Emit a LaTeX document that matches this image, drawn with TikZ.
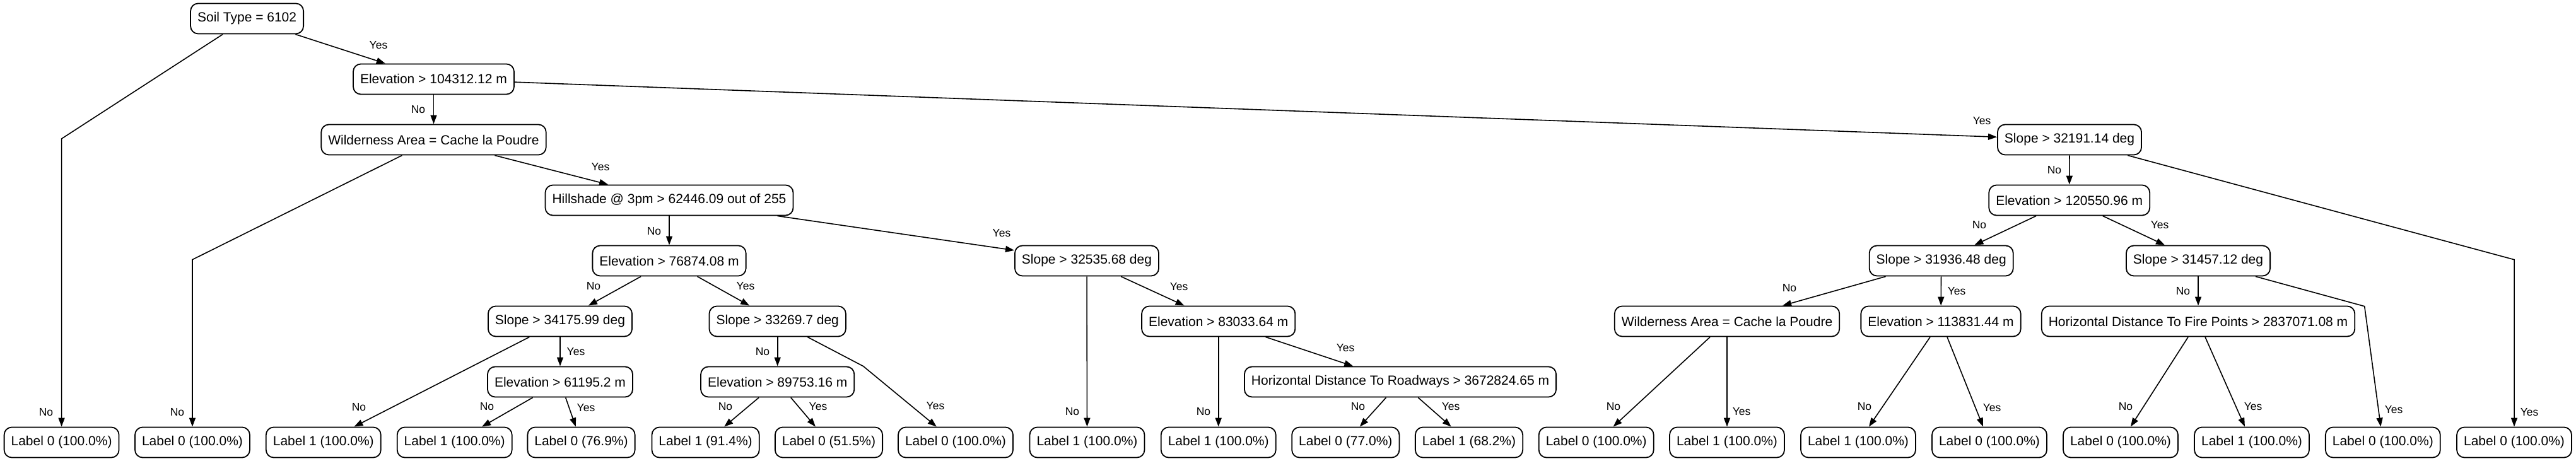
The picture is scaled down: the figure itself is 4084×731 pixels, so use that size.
\documentclass[tikz,border=0pt]{standalone}
\usepackage{fontspec}
\setmainfont{Liberation Sans}
\usetikzlibrary{arrows.meta}
\begin{document}
\begin{tikzpicture}[x=0.5pt,y=-0.5pt,
  box/.style={draw, rounded corners=6pt, line width=0.9pt, minimum height=24pt,
    inner xsep=5.5pt, inner ysep=0pt, font=\fontsize{10.5}{12}\selectfont},
  lbl/.style={font=\fontsize{8.75}{10}\selectfont, inner sep=0pt},
  conn/.style={line width=0.8pt, -{Triangle[length=7pt,width=5pt]}},
]
\useasboundingbox[fill=white] (0,0) rectangle (4084,731);
% internal nodes
\node[box] (soil) at (391.6,29.5) {Soil Type = 6102};
\node[box] (e104) at (687.5,125.5) {Elevation > 104312.12 m};
\node[box] (wild1) at (687.5,221.5) {Wilderness Area = Cache la Poudre};
\node[box] (hill) at (1061,317.5) {Hillshade @ 3pm > 62446.09 out of 255};
\node[box] (e76) at (1061,413.5) {Elevation > 76874.08 m};
\node[box] (s34) at (888,509.5) {Slope > 34175.99 deg};
\node[box] (e61) at (888,605.5) {Elevation > 61195.2 m};
\node[box] (s33) at (1232.7,509.5) {Slope > 33269.7 deg};
\node[box] (e89) at (1232.7,605.5) {Elevation > 89753.16 m};
\node[box] (s325) at (1723,413.5) {Slope > 32535.68 deg};
\node[box] (e83) at (1931.7,509.5) {Elevation > 83033.64 m};
\node[box] (hdr) at (2220,605.5) {Horizontal Distance To Roadways > 3672824.65 m};
\node[box] (s321) at (3281,221.5) {Slope > 32191.14 deg};
\node[box] (e120) at (3280.7,317.5) {Elevation > 120550.96 m};
\node[box] (s319) at (3077.7,413.5) {Slope > 31936.48 deg};
\node[box] (s314) at (3485,413.5) {Slope > 31457.12 deg};
\node[box] (wild2) at (2738,509.5) {Wilderness Area = Cache la Poudre};
\node[box] (e113) at (3077,509.5) {Elevation > 113831.44 m};
\node[box] (hdfp) at (3485,509.5) {Horizontal Distance To Fire Points > 2837071.08 m};
% leaves
\node[box] (L1) at (97.6,701.5) {Label 0 (100.0\%)};
\node[box] (L2) at (305,701.5) {Label 0 (100.0\%)};
\node[box] (L3) at (512.8,701.5) {Label 1 (100.0\%)};
\node[box] (L4) at (720.7,701.5) {Label 1 (100.0\%)};
\node[box] (L5) at (921.5,701.5) {Label 0 (76.9\%)};
\node[box] (L6) at (1118.6,701.5) {Label 1 (91.4\%)};
\node[box] (L7) at (1314,701.5) {Label 0 (51.5\%)};
\node[box] (L8) at (1515,701.5) {Label 0 (100.0\%)};
\node[box] (L9) at (1723.5,701.5) {Label 1 (100.0\%)};
\node[box] (L10) at (1931.7,701.5) {Label 1 (100.0\%)};
\node[box] (L11) at (2133.3,701.5) {Label 0 (77.0\%)};
\node[box] (L12) at (2329,701.5) {Label 1 (68.2\%)};
\node[box] (L13) at (2530.7,701.5) {Label 0 (100.0\%)};
\node[box] (L14) at (2738,701.5) {Label 1 (100.0\%)};
\node[box] (L15) at (2946,701.5) {Label 1 (100.0\%)};
\node[box] (L16) at (3154,701.5) {Label 0 (100.0\%)};
\node[box] (L17) at (3362,701.5) {Label 0 (100.0\%)};
\node[box] (L18) at (3570,701.5) {Label 1 (100.0\%)};
\node[box] (L19) at (3777.8,701.5) {Label 0 (100.0\%)};
\node[box] (L20) at (3986,701.5) {Label 0 (100.0\%)};
% bend points
\coordinate (b1) at (97.6,220);
\coordinate (b5) at (305,411.7);
\coordinate (b16) at (1368.6,580.7);
\coordinate (b26) at (3986,411.7);
\coordinate (b36) at (3748.7,485.7);
% connectors
\draw[conn] (soil) -- (b1) -- (L1);
\draw[conn] (soil) -- (e104);
\draw[conn] (e104) -- (wild1);
\draw[conn] (e104) -- (s321);
\draw[conn] (wild1) -- (b5) -- (L2);
\draw[conn] (wild1) -- (hill);
\draw[conn] (hill) -- (e76);
\draw[conn] (hill) -- (s325);
\draw[conn] (e76) -- (s34);
\draw[conn] (e76) -- (s33);
\draw[conn] (s34) -- (L3);
\draw[conn] (s34) -- (e61);
\draw[conn] (e61) -- (L4);
\draw[conn] (e61) -- (L5);
\draw[conn] (s33) -- (e89);
\draw[conn] (s33) -- (b16) -- (L8);
\draw[conn] (e89) -- (L6);
\draw[conn] (e89) -- (L7);
\draw[conn] (s325) -- (L9);
\draw[conn] (s325) -- (e83);
\draw[conn] (e83) -- (L10);
\draw[conn] (e83) -- (hdr);
\draw[conn] (hdr) -- (L11);
\draw[conn] (hdr) -- (L12);
\draw[conn] (s321) -- (e120);
\draw[conn] (s321) -- (b26) -- (L20);
\draw[conn] (e120) -- (s319);
\draw[conn] (e120) -- (s314);
\draw[conn] (s319) -- (wild2);
\draw[conn] (s319) -- (e113);
\draw[conn] (wild2) -- (L13);
\draw[conn] (wild2) -- (L14);
\draw[conn] (e113) -- (L15);
\draw[conn] (e113) -- (L16);
\draw[conn] (s314) -- (hdfp);
\draw[conn] (s314) -- (b36) -- (L19);
\draw[conn] (hdfp) -- (L17);
\draw[conn] (hdfp) -- (L18);
% edge labels
\node[lbl] (t1) at (73,654) {No};
\node[lbl] (t2) at (600,72) {Yes};
\node[lbl] (t3) at (663,174) {No};
\node[lbl] (t4) at (3142,192) {Yes};
\node[lbl] (t5) at (281,654) {No};
\node[lbl] (t6) at (952,265) {Yes};
\node[lbl] (t7) at (1037,367) {No};
\node[lbl] (t8) at (1588,370) {Yes};
\node[lbl] (t9) at (941,454) {No};
\node[lbl] (t10) at (1182,454) {Yes};
\node[lbl] (t11) at (569,646) {No};
\node[lbl] (t12) at (913,558) {Yes};
\node[lbl] (t13) at (772,645) {No};
\node[lbl] (t14) at (929,647) {Yes};
\node[lbl] (t15) at (1209,558) {No};
\node[lbl] (t16) at (1483,644) {Yes};
\node[lbl] (t17) at (1150,645) {No};
\node[lbl] (t18) at (1297,645) {Yes};
\node[lbl] (t19) at (1700,653) {No};
\node[lbl] (t20) at (1869,455) {Yes};
\node[lbl] (t21) at (1908,653) {No};
\node[lbl] (t22) at (2133,552) {Yes};
\node[lbl] (t23) at (2153,645) {No};
\node[lbl] (t24) at (2300,645) {Yes};
\node[lbl] (t25) at (3257,270) {No};
\node[lbl] (t26) at (4010,654) {Yes};
\node[lbl] (t27) at (3138,357) {No};
\node[lbl] (t28) at (3424,357) {Yes};
\node[lbl] (t29) at (2837,457) {No};
\node[lbl] (t30) at (3102,462) {Yes};
\node[lbl] (t31) at (2558,645) {No};
\node[lbl] (t32) at (2761,653) {Yes};
\node[lbl] (t33) at (2956,645) {No};
\node[lbl] (t34) at (3158,647) {Yes};
\node[lbl] (t35) at (3461,462) {No};
\node[lbl] (t36) at (3795,650) {Yes};
\node[lbl] (t37) at (3370,645) {No};
\node[lbl] (t38) at (3572,645) {Yes};
\end{tikzpicture}
\end{document}
